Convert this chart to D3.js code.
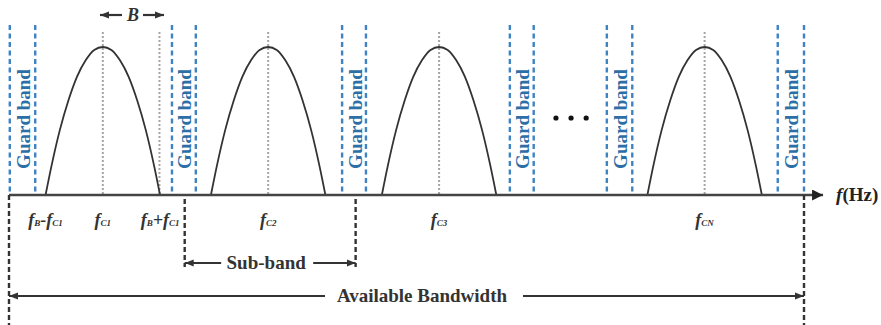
<!DOCTYPE html>
<html>
<head>
<meta charset="utf-8">
<script src="https://cdn.jsdelivr.net/npm/d3@7"></script>
<style>
body{margin:0;background:#fff;}
svg{display:block;}
text{font-family:"Liberation Serif","Times New Roman",serif;font-weight:bold;}
</style>
</head>
<body>
<div id="main"></div>
<script>
// frequency axis in arbitrary units, 0 = start of available bandwidth, 100 = end
var carriers=[11.8,32.6,54.1,87.5];
var carrierLabels=[['C1'],['C2'],['C3'],['CN']];
var halfB=7.2;
var guardPairs=[[0.1,3.3],[20.5,23.5],[41.9,44.9],[63.0,66.0],[75.2,78.4],[96.7,100]];
var subBand=[22.1,43.6];
var bandEdges=[0,100];
var axisEnd=102.4;
var dots=[68.8,70.7,72.6];
// spectrum profile (offset in units of B/2, relative amplitude)
var profU=[-1,-0.9,-0.75,-0.6,-0.45,-0.3,-0.15,0,0.15,0.3,0.45,0.6,0.75,0.9,1];
var profH=[0,0.19,0.44,0.64,0.8,0.91,0.98,1,0.98,0.91,0.8,0.64,0.44,0.19,0];

var W=881,H=325;
var x=d3.scaleLinear().domain([0,100]).range([9,804]);
var y=d3.scaleLinear().domain([0,1]).range([195,47]);
var y0=y(0);

var svg=d3.select('#main').append('svg').attr('width',W).attr('height',H);
var defs=svg.append('defs');
defs.append('marker').attr('id','ah').attr('viewBox','0 0 10 10').attr('refX',10).attr('refY',5)
  .attr('markerWidth',9).attr('markerHeight',9).attr('markerUnits','userSpaceOnUse').attr('orient','auto-start-reverse')
  .append('path').attr('d','M0,1L10,5L0,9Z').attr('fill','#333');
defs.append('marker').attr('id','ah2').attr('viewBox','0 0 10 10').attr('refX',10).attr('refY',5)
  .attr('markerWidth',11).attr('markerHeight',11).attr('markerUnits','userSpaceOnUse').attr('orient','auto-start-reverse')
  .append('path').attr('d','M0,0L10,5L0,10Z').attr('fill','#222');

var blue='#3f83c2', blueText='#2c6ea6';

// guard band dashed lines
guardPairs.forEach(function(p){
  p.forEach(function(v){
    svg.append('line').attr('x1',x(v)).attr('x2',x(v)).attr('y1',25).attr('y2',y0)
      .attr('stroke',blue).attr('stroke-width',2.4).attr('stroke-dasharray','5,3.5');
  });
  var cx=(x(p[0])+x(p[1]))/2+1;
  svg.append('text').attr('transform','translate('+cx+',119) rotate(-90)')
    .attr('text-anchor','middle').attr('dominant-baseline','central')
    .attr('fill',blueText).style('font-size','19px').text('Guard band');
});

// gray dotted centre lines
var dotted=carriers.concat([carriers[0]+halfB*0.99]);
dotted.forEach(function(c){
  svg.append('line').attr('x1',x(c)).attr('x2',x(c)).attr('y1',32).attr('y2',y0)
    .attr('stroke','#a5a5a5').attr('stroke-width',2).attr('stroke-dasharray','2,2');
});

// spectra
var line=d3.line().x(function(d){return d[0];}).y(function(d){return d[1];}).curve(d3.curveMonotoneX);
carriers.forEach(function(c){
  var pts=profU.map(function(u,i){return [x(c+u*halfB),y(profH[i])];});
  svg.append('path').attr('d',line(pts)).attr('fill','none').attr('stroke','#333').attr('stroke-width',1.8);
});

// frequency axis
svg.append('line').attr('x1',x(0)).attr('x2',x(axisEnd)).attr('y1',y0).attr('y2',y0)
  .attr('stroke','#444').attr('stroke-width',2.6).attr('marker-end','url(#ah2)');
var fl=svg.append('text').attr('x',x(axisEnd)+13).attr('y',y0+6).style('font-size','19px').attr('fill','#222');
fl.append('tspan').style('font-style','italic').text('f');
fl.append('tspan').text('(Hz)');

// ellipsis
dots.forEach(function(d){
  svg.append('circle').attr('cx',x(d)).attr('cy',118).attr('r',2.6).attr('fill','#111');
});

// black dashed band delimiters
bandEdges.forEach(function(v){
  svg.append('line').attr('x1',x(v)).attr('x2',x(v)).attr('y1',y0).attr('y2',H)
    .attr('stroke','#333').attr('stroke-width',2.4).attr('stroke-dasharray','5,3');
});
subBand.forEach(function(v){
  svg.append('line').attr('x1',x(v)).attr('x2',x(v)).attr('y1',y0+4).attr('y2',267)
    .attr('stroke','#333').attr('stroke-width',2.4).attr('stroke-dasharray','5,3');
});

// frequency labels
function fLabel(cx,parts){
  var t=svg.append('text').attr('x',cx).attr('y',226).attr('text-anchor','middle').attr('fill','#333');
  parts.forEach(function(p){
    if(p.sub){
      t.append('tspan').style('font-size','9px').style('font-style','italic').attr('dy',0).text(p.sub);
    }else{
      t.append('tspan').style('font-size','18px').style('font-style','italic').text(p.t);
    }
  });
}
fLabel(x(carriers[0]-halfB),[{t:'f'},{sub:'B'},{t:'-f'},{sub:'C1'}]);
fLabel(x(carriers[0]+halfB),[{t:'f'},{sub:'B'},{t:'+f'},{sub:'C1'}]);
carriers.forEach(function(c,i){
  fLabel(x(c),[{t:'f'},{sub:carrierLabels[i][0]}]);
});

// B arrow
svg.append('line').attr('x1',122).attr('x2',100).attr('y1',15).attr('y2',15)
  .attr('stroke','#333').attr('stroke-width',2.2).attr('marker-end','url(#ah)');
svg.append('line').attr('x1',143).attr('x2',164).attr('y1',15).attr('y2',15)
  .attr('stroke','#333').attr('stroke-width',2.2).attr('marker-end','url(#ah)');
svg.append('text').attr('x',133).attr('y',21).attr('text-anchor','middle').attr('fill','#333')
  .style('font-size','18px').style('font-style','italic').text('B');

// sub-band dimension
var sbY=263, sbMid=(x(subBand[0])+x(subBand[1]))/2-4;
svg.append('text').attr('x',sbMid).attr('y',sbY+6).attr('text-anchor','middle').attr('fill','#333')
  .style('font-size','19px').text('Sub-band');
svg.append('line').attr('x1',sbMid-45).attr('x2',x(subBand[0])).attr('y1',sbY).attr('y2',sbY)
  .attr('stroke','#333').attr('stroke-width',2).attr('marker-end','url(#ah)');
svg.append('line').attr('x1',sbMid+47).attr('x2',x(subBand[1])).attr('y1',sbY).attr('y2',sbY)
  .attr('stroke','#333').attr('stroke-width',2).attr('marker-end','url(#ah)');

// available bandwidth dimension
var abY=296, abMid=422;
svg.append('text').attr('x',abMid).attr('y',abY+6).attr('text-anchor','middle').attr('fill','#333')
  .style('font-size','19px').text('Available Bandwidth');
svg.append('line').attr('x1',abMid-97).attr('x2',x(bandEdges[0])).attr('y1',abY).attr('y2',abY)
  .attr('stroke','#333').attr('stroke-width',2).attr('marker-end','url(#ah)');
svg.append('line').attr('x1',abMid+101).attr('x2',x(bandEdges[1])).attr('y1',abY).attr('y2',abY)
  .attr('stroke','#333').attr('stroke-width',2).attr('marker-end','url(#ah)');
</script>
</body>
</html>
